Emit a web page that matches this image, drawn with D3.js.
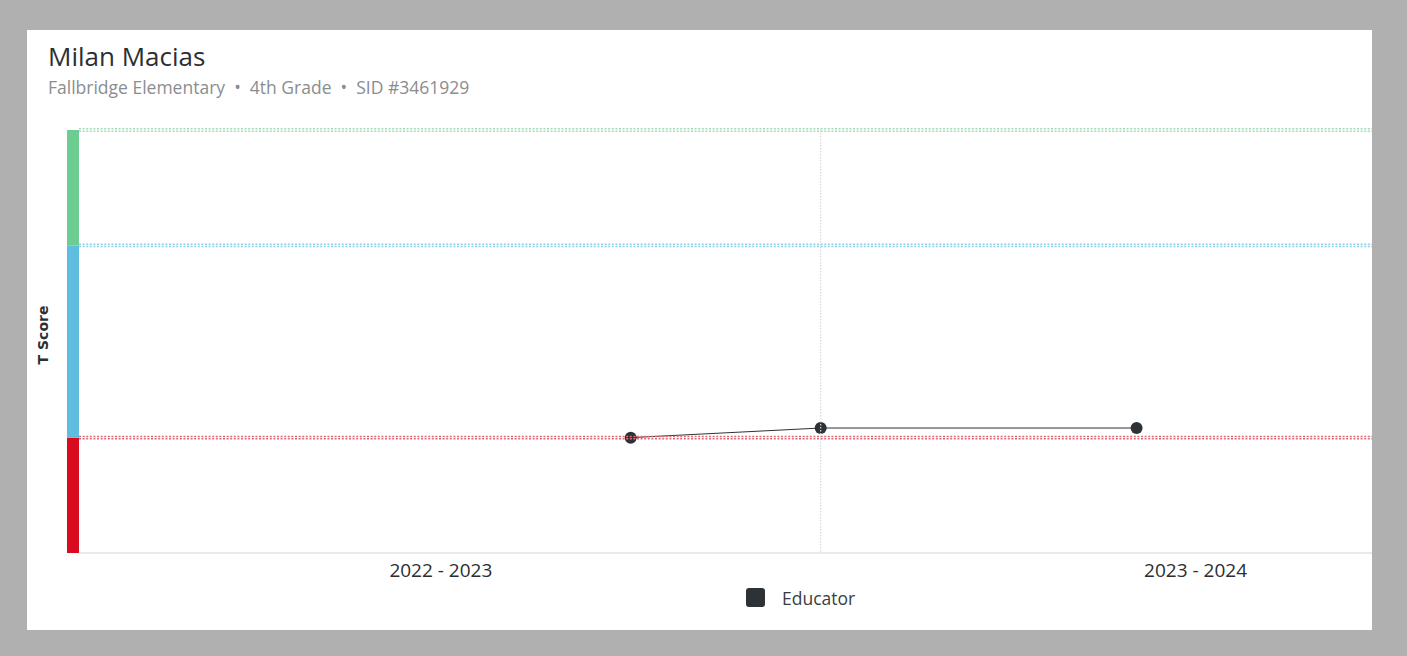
<!DOCTYPE html>
<html>
<head>
<meta charset="utf-8">
<script src="https://cdn.jsdelivr.net/npm/d3@7/dist/d3.min.js"></script>
<style>
  html, body { margin: 0; padding: 0; background: #b1b0b0; }
  svg { display: block; }
  text { font-family: "Open Sans", "Noto Sans", sans-serif; }
</style>
</head>
<body>
<div id="chart"></div>
<script>
// Data
var studentName = 'Milan Macias';
var studentInfo = ['Fallbridge Elementary', '4th Grade', 'SID #3461929'];
var schoolYears = ['2022 - 2023', '2023 - 2024'];
var yearStarts = ['2022-08-01', '2023-08-01', '2024-08-01'];
var pointDates = ['2023-05-01', '2023-08-01', '2024-01-01'];
var pointScores = [40, 41, 41];
var bandNames = ['low', 'mid', 'high'];
var bandBounds = [28, 40, 60, 72];
var seriesName = 'Educator';

var W = 1407, H = 656;
var parse = d3.timeParse('%Y-%m-%d');

var svg = d3.select('#chart').append('svg')
    .attr('width', W)
    .attr('height', H);

// white card
svg.append('rect')
    .attr('x', 27).attr('y', 30)
    .attr('width', 1345).attr('height', 600)
    .attr('fill', '#fff');

// header
svg.append('text')
    .attr('x', 48).attr('y', 66)
    .attr('font-size', 26)
    .attr('font-weight', 500)
    .attr('fill', '#2b2f33')
    .text(studentName);

svg.append('text')
    .attr('x', 48).attr('y', 94)
    .attr('font-size', 17.5)
    .attr('fill', '#8a8d90')
    .style('white-space', 'pre')
    .text(studentInfo.join('  \u2022  '));

var margins = { top: 130, right: 35, bottom: 103, left: 67 };
var chartLeft = margins.left, chartRight = W - margins.right;
var chartTop = margins.top, chartBottom = H - margins.bottom;

var x = d3.scaleTime()
    .domain([parse('2022-08-01'), parse('2024-04-24')])
    .range([chartLeft, chartRight]);

var y = d3.scaleLinear()
    .domain([bandBounds[0], bandBounds[bandBounds.length - 1]])
    .range([chartBottom, chartTop]);

var bandColors = { low: '#d90b1e', mid: '#5fbde0', high: '#6ccc91' };
var lineColors = { low: '#e06a78', mid: '#8fd0e8', high: '#a6dcbd' };

var chart = svg.append('g');

// axis baseline
chart.append('line')
    .attr('x1', chartLeft + 12).attr('x2', chartRight)
    .attr('y1', chartBottom).attr('y2', chartBottom)
    .attr('stroke', '#e9e9e9')
    .attr('stroke-width', 2);

// colored band bar on the left
chart.selectAll('rect.band')
    .data(bandNames)
    .enter().append('rect')
    .attr('class', 'band')
    .attr('x', chartLeft)
    .attr('width', 12)
    .attr('y', function(d, i) { return y(bandBounds[i + 1]); })
    .attr('height', function(d, i) { return y(bandBounds[i]) - y(bandBounds[i + 1]); })
    .attr('fill', function(d) { return bandColors[d]; });

// series line + points
var pts = pointDates.map(function(d, i) {
    return { date: parse(d), score: pointScores[i] };
});

chart.append('path')
    .datum(pts)
    .attr('fill', 'none')
    .attr('stroke', '#2d3236')
    .attr('stroke-width', 1)
    .attr('d', d3.line()
        .x(function(d) { return x(d.date); })
        .y(function(d) { return y(d.score); }));

chart.selectAll('circle.pt')
    .data(pts)
    .enter().append('circle')
    .attr('class', 'pt')
    .attr('cx', function(d) { return x(d.date); })
    .attr('cy', function(d) { return y(d.score); })
    .attr('r', 6)
    .attr('fill', '#2d3236');

// school year boundary gridlines (dotted)
var bounds = yearStarts.slice(1).map(parse).filter(function(d) { return x(d) < chartRight; });
chart.selectAll('line.grid')
    .data(bounds)
    .enter().append('line')
    .attr('class', 'grid')
    .attr('x1', function(d) { return x(d); })
    .attr('x2', function(d) { return x(d); })
    .attr('y1', chartTop)
    .attr('y2', chartBottom)
    .attr('stroke', '#d6d6d6')
    .attr('stroke-width', 1.2)
    .attr('stroke-dasharray', '1.5,1.5');

// dotted threshold lines (two rows of dots)
var thresholds = [
    { v: bandBounds[1], c: lineColors.low },
    { v: bandBounds[2], c: lineColors.mid },
    { v: bandBounds[3], c: lineColors.high }
];
[-1.2, 1.2].forEach(function(off) {
    chart.selectAll(null)
        .data(thresholds)
        .enter().append('line')
        .attr('x1', chartLeft + 12)
        .attr('x2', chartRight)
        .attr('y1', function(d) { return y(d.v) + off; })
        .attr('y2', function(d) { return y(d.v) + off; })
        .attr('stroke', function(d) { return d.c; })
        .attr('stroke-width', 1.5)
        .attr('stroke-dasharray', '2,1.6');
});

// x labels: centered in each school year
chart.selectAll('text.year')
    .data(schoolYears)
    .enter().append('text')
    .attr('class', 'year')
    .attr('x', function(d, i) {
        return (x(parse(yearStarts[i])) + x(parse(yearStarts[i + 1]))) / 2 - 3;
    })
    .attr('y', chartBottom + 24)
    .attr('text-anchor', 'middle')
    .attr('font-size', 19)
    .attr('font-weight', 500)
    .attr('fill', '#2a2e31')
    .text(function(d) { return d; });

// y title
svg.append('text')
    .attr('transform', 'translate(48,335) rotate(-90)')
    .attr('text-anchor', 'middle')
    .style('font-family', '"DejaVu Sans", sans-serif')
    .attr('font-size', 14)
    .attr('font-weight', 700)
    .attr('fill', '#2b2f33')
    .text('T Score');

// legend
var legend = svg.append('g').attr('transform', 'translate(746,588)');
legend.append('rect')
    .attr('width', 19).attr('height', 19)
    .attr('rx', 3)
    .attr('fill', '#2d3236');
legend.append('text')
    .attr('x', 36).attr('y', 17)
    .attr('font-size', 17.5)
    .attr('fill', '#3a3e41')
    .text(seriesName);
</script>
</body>
</html>
